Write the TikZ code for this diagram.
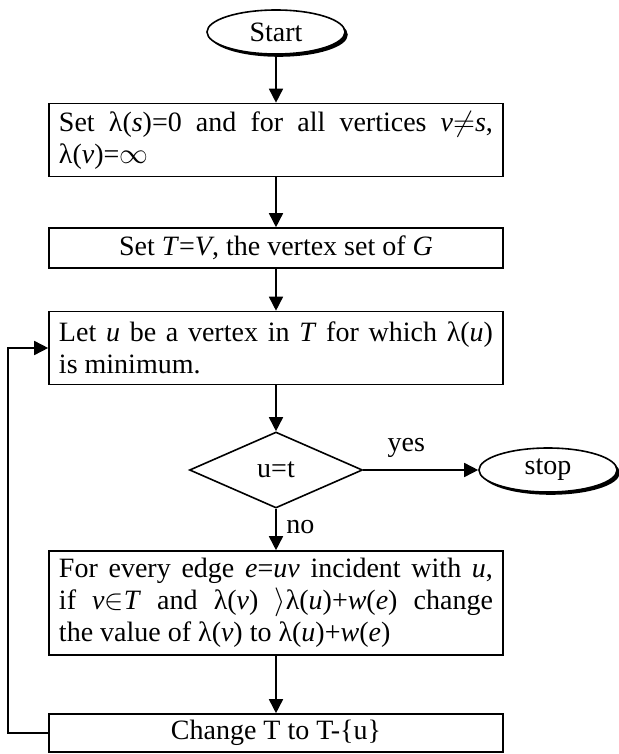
\documentclass[tikz,border=0pt]{standalone}
\usepackage{fontspec}
\setmainfont{Liberation Serif}
\usetikzlibrary{arrows.meta,positioning,shapes.geometric,shadows}

\begin{document}
\begin{tikzpicture}[node distance= 54pt,
    font=\fontsize{14}{16}\selectfont,
    term/.style={ellipse, inner sep=0pt, minimum width=69pt, minimum height=22pt,
      drop shadow={shadow xshift=1.4pt, shadow yshift=-1.4pt, fill=black, opacity=1}},
    box/.style={rectangle, text width=217pt, inner xsep=5pt, inner ysep=2pt, align=justify},
    cbox/.style={rectangle, minimum width=227pt, inner ysep=2pt, align=center},
    decision/.style={diamond, minimum width=86.5pt, minimum height=38pt, inner sep=0pt}]
      \useasboundingbox (-138pt,16pt) rectangle (171.5pt,-361pt);
      \begin{scope}[every node/.style={draw, line width=0.8pt, fill=white}]
        \node (start)[term] at (0,0) {Start};
        \node (init)[box, minimum height=36.5pt] [below of= start]
          {Set λ(\textit{s})=0 and for all vertices \textit{v}$\neq$\textit{s},\linebreak
           λ(\textit{v})=$\infty$};
        \node (setT)[cbox, minimum height=20pt] [below of= init]
          {Set \textit{T}=\textit{V}, the vertex set of \textit{G}};
        \node (minU)[box, minimum height=36.5pt] [below of= setT, node distance=50pt]
          {Let \textit{u} be a vertex in \textit{T} for which λ(\textit{u})\linebreak
           is minimum.};
        \node (test)[decision] [below of= minU, node distance=61pt] {u=t};
        \node (stop)[term] [right of= test, node distance=136pt] {stop};
        \node (relax)[box, minimum height=52pt] [below of= test, node distance=66.5pt]
          {For every edge \textit{e}=\textit{uv} incident with \textit{u},\linebreak
           if \textit{v}$\in$\textit{T} and λ(\textit{v}) $\rangle$λ(\textit{u})+\textit{w}(\textit{e}) change\linebreak
           the value of λ(\textit{v}) to λ(\textit{u})+\textit{w}(\textit{e})};
        \node (remove)[cbox, minimum height=19pt] [below of= relax, node distance=65pt]
          {Change T to T-\{u\}};
      \end{scope}
      \begin{scope}
        [every edge/.style={draw= black, line width=0.8pt,
          -{Triangle[length=7pt,width=7pt]}}]
        \path (start) edge (init);
        \path (init) edge (setT);
        \path (setT) edge (minU);
        \path (minU) edge (test);
        \path (test) edge node[pos=0.375, above=2.4pt] {yes} (stop);
        \path (test) edge node[pos=0.45, right=1.5pt] {no} (relax);
        \path (relax) edge (remove);
        \draw[line width=0.8pt, -{Triangle[length=7pt,width=7pt]}]
          (remove.west) -- ++(-20pt,0) |- (minU.west);
      \end{scope}
    \end{tikzpicture}
\end{document}
